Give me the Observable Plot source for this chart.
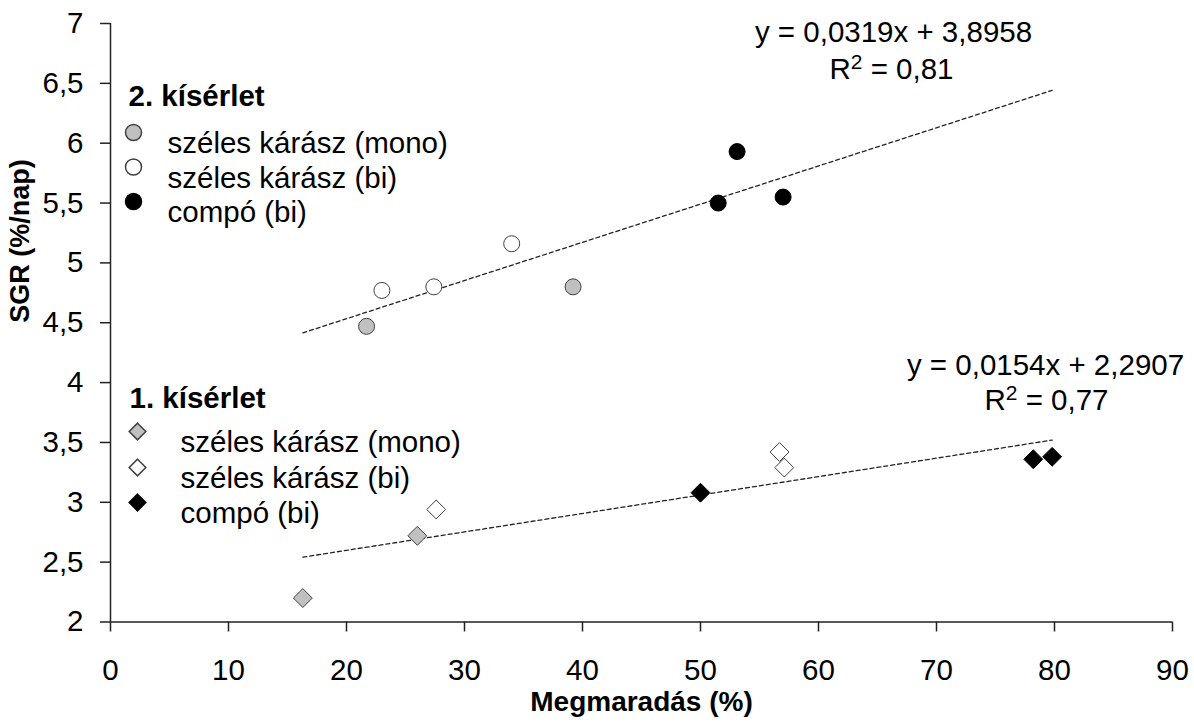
<!DOCTYPE html>
<html>
<head>
<meta charset="utf-8">
<script src="https://cdn.jsdelivr.net/npm/d3@7"></script>
<script src="https://cdn.jsdelivr.net/npm/@observablehq/plot@0.6"></script>
<style>
  html, body { margin: 0; padding: 0; background: #fff; }
  #chart svg { display: block; }
</style>
</head>
<body>
<div id="chart"></div>
<script>
// ---- data ----
const xTicks = [0, 10, 20, 30, 40, 50, 60, 70, 80, 90];
const yTicks = [2, 2.5, 3, 3.5, 4, 4.5, 5, 5.5, 6, 6.5, 7];

// 2. kísérlet (circles)
const exp2MonoX = [21.7, 39.2];
const exp2MonoY = [4.47, 4.80];
const exp2BiX = [23.0, 27.4, 34.0];
const exp2BiY = [4.77, 4.80, 5.16];
const exp2CompoX = [51.5, 53.1, 57.0];
const exp2CompoY = [5.50, 5.93, 5.55];

// 1. kísérlet (diamonds)
const exp1MonoX = [16.3, 26.0];
const exp1MonoY = [2.20, 2.72];
const exp1BiX = [27.6, 56.7, 57.1];
const exp1BiY = [2.94, 3.42, 3.29];
const exp1CompoX = [50.0, 78.2, 79.8];
const exp1CompoY = [3.08, 3.36, 3.38];

// trendlines (from the printed equations)
const trendRangeX = [16.3, 79.8];
const exp2Coef = [0.0319, 3.8958];
const exp1Coef = [0.0154, 2.2907];
const exp2EqLabels = ["y = 0,0319x + 3,8958", "R² = 0,81"];
const exp1EqLabels = ["y = 0,0154x + 2,2907", "R² = 0,77"];

const legendLabels = ["széles kárász (mono)", "széles kárász (bi)", "compó (bi)"];
const legendFills = ["#c0c0c0", "#ffffff", "#000000"];
const exp2Title = "2. kísérlet";
const exp1Title = "1. kísérlet";
const xLabel = "Megmaradás (%)";
const yLabel = "SGR (%/nap)";

// ---- build ----
const pts = (xs, ys) => xs.map((x, i) => ({x, y: ys[i]}));
const comma = d => String(d).replace(".", ",");
const FONT = "'Liberation Sans', Arial, sans-serif";
const FS = 29.5;
const mL = 110, mT = 23;

const seriesMarks = [
  [exp2MonoX, exp2MonoY, legendFills[0], "circle", 8],
  [exp2BiX, exp2BiY, legendFills[1], "circle", 8],
  [exp2CompoX, exp2CompoY, legendFills[2], "circle", 8],
  [exp1MonoX, exp1MonoY, legendFills[0], "diamond2", 8.5],
  [exp1BiX, exp1BiY, legendFills[1], "diamond2", 8.5],
  [exp1CompoX, exp1CompoY, legendFills[2], "diamond2", 8.5]
].map(([xs, ys, fill, symbol, r]) =>
  Plot.dot(pts(xs, ys), {x: "x", y: "y", fill, symbol, r,
    stroke: fill === "#000000" ? "#000" : "#404040", strokeWidth: 1})
);

const trend = (coef) => Plot.line(trendRangeX, {
  x: d => d, y: d => coef[0] * d + coef[1],
  stroke: "#222", strokeWidth: 1.3, strokeDasharray: "4,3"
});

const legendItemsY2 = [132, 166.5, 201];
const legendItemsY1 = [431, 467, 502];
const legendMarks = [];
legendLabels.forEach((lab, i) => {
  legendMarks.push(Plot.dot([0], {frameAnchor: "top-left", dx: 133 - mL, dy: legendItemsY2[i] - mT,
    symbol: "circle", r: 8, fill: legendFills[i], stroke: i === 2 ? "#000" : "#404040"}));
  legendMarks.push(Plot.text([lab], {frameAnchor: "top-left", dx: 167 - mL, dy: legendItemsY2[i] - mT,
    text: d => d, textAnchor: "start", fontSize: FS, fill: "#000"}));
  legendMarks.push(Plot.dot([0], {frameAnchor: "top-left", dx: 137 - mL, dy: legendItemsY1[i] - mT,
    symbol: "diamond2", r: 7.5, fill: legendFills[i], stroke: i === 2 ? "#000" : "#404040"}));
  legendMarks.push(Plot.text([lab], {frameAnchor: "top-left", dx: 180 - mL, dy: legendItemsY1[i] - mT,
    text: d => d, textAnchor: "start", fontSize: FS, fill: "#000"}));
});
legendMarks.push(Plot.text([exp2Title], {frameAnchor: "top-left", dx: 128 - mL, dy: 85 - mT,
  text: d => d, textAnchor: "start", fontSize: FS, fontWeight: "bold", fill: "#000"}));
legendMarks.push(Plot.text([exp1Title], {frameAnchor: "top-left", dx: 129 - mL, dy: 387 - mT,
  text: d => d, textAnchor: "start", fontSize: FS, fontWeight: "bold", fill: "#000"}));

const eqText = (label, cx, cy) => Plot.text([label], {frameAnchor: "top-left", dx: cx - mL, dy: cy - mT,
  text: d => d, textAnchor: "middle", fontSize: FS, fill: "#000"});
const eqMarks = [
  eqText(exp2EqLabels[0], 893, 21),
  eqText(exp2EqLabels[1], 891, 58),
  eqText(exp1EqLabels[0], 1045, 354),
  eqText(exp1EqLabels[1], 1046, 389)
];

const chart = Plot.plot({
  width: 1194,
  height: 727,
  marginLeft: mL,
  marginRight: 22,
  marginTop: mT,
  marginBottom: 105.5,
  style: {fontFamily: FONT, fontSize: FS + "px", color: "#000", background: "#fff", overflow: "visible"},
  x: {domain: [0, 90]},
  y: {domain: [2, 7]},
  marks: [
    Plot.axisX({ticks: xTicks, tickSize: 10, tickPadding: 27, fontSize: FS, label: null, stroke: "#222", strokeWidth: 1.5}),
    Plot.axisY({ticks: yTicks, tickSize: 10, tickPadding: 17, fontSize: FS, tickFormat: comma, label: null, stroke: "#222", strokeWidth: 1.5}),
    Plot.ruleX([0], {stroke: "#222", strokeWidth: 1.5}),
    Plot.ruleY([2], {stroke: "#222", strokeWidth: 1.5}),
    trend(exp2Coef),
    trend(exp1Coef),
    ...seriesMarks,
    ...legendMarks,
    ...eqMarks,
    Plot.text([xLabel], {frameAnchor: "bottom", dy: 89, text: d => d, fontSize: 28, fontWeight: "bold", fill: "#000"}),
    Plot.text([yLabel], {frameAnchor: "left", dx: -90, text: d => d, rotate: -90, fontSize: 27, fontWeight: "bold", fill: "#000"})
  ]
});
document.getElementById("chart").appendChild(chart);

// render the R² with a proper superscript (text stays real text)
d3.select(chart).selectAll("text").each(function () {
  const t = this.textContent;
  if (t.startsWith("R²")) {
    const rest = t.slice(2);
    const sel = d3.select(this);
    sel.text(null);
    sel.append("tspan").text("R");
    sel.append("tspan").attr("dy", -10).attr("font-size", 21).text("2");
    sel.append("tspan").attr("dy", 10).text(rest);
  }
});
</script>
</body>
</html>
